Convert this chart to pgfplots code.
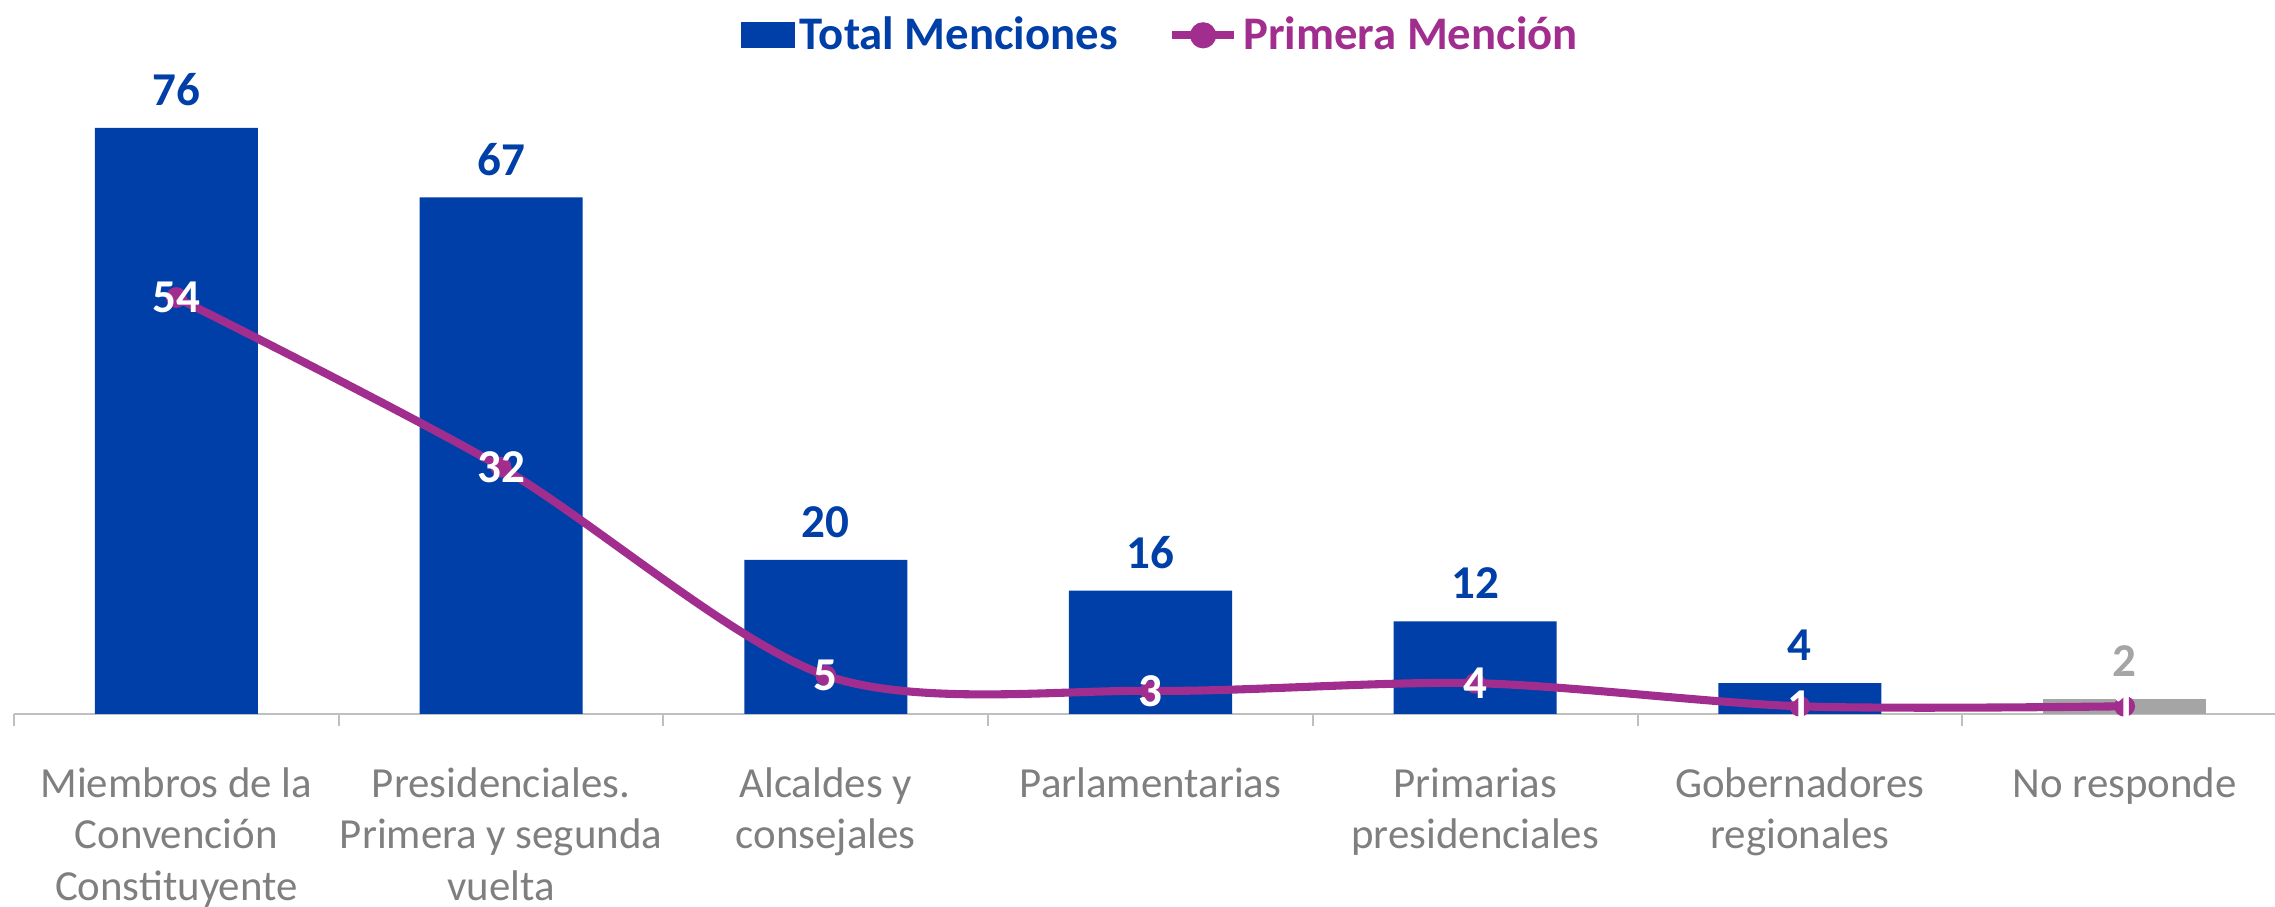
\documentclass[border=0pt]{standalone}
\usepackage{fontspec}
\setmainfont{Carlito}
\usepackage{pgfplots}
\pgfplotsset{compat=1.18}

\definecolor{barblue}{HTML}{003FA7}
\definecolor{linemag}{HTML}{A12E8F}
\definecolor{bargray}{HTML}{A5A5A5}
\definecolor{axisgray}{HTML}{BFBFBF}
\definecolor{labgray}{HTML}{7F7F7F}

\begin{document}
\begin{tikzpicture}
\path[use as bounding box] (-0.14,-1.93) rectangle (22.61,7.14);
\begin{axis}[
  at={(0,0)}, anchor=south west,
  scale only axis,
  width=22.73cm, height=6.17cm,
  xmin=-0.5, xmax=6.5, ymin=0, ymax=80,
  clip=false,
  hide y axis,
  axis x line*=bottom,
  x axis line style={axisgray, line width=0.6pt},
  /pgf/number format/assume math mode=true,
  xtick={0,...,6},
  xticklabels={{Miembros de la\\Convención\\Constituyente},
               {Presidenciales.\\Primera y segunda\\vuelta},
               {Alcaldes y\\consejales},
               {Parlamentarias},
               {Primarias\\presidenciales},
               {Gobernadores\\regionales},
               {No responde}},
  xticklabel style={align=center, anchor=north, inner sep=0pt, yshift=-0.53cm,
    text=labgray, font=\fontsize{12.2}{14.65}\selectfont},
  major tick length=0pt,
  minor xtick={-0.5,0.5,...,6.5},
  minor tick length=0.12cm,
  tick align=outside,
  minor tick style={axisgray, line width=0.6pt},
  legend columns=2,
  legend style={draw=none, fill=none, at={(0.505,1.1)}, anchor=center,
    font=\bfseries\fontsize{13.3}{15}\selectfont,
    /tikz/every even column/.append style={column sep=0.45cm},
    nodes={inner sep=1.5pt}},
]
\addplot[ybar, bar width=1.63cm, bar shift=0pt, fill=barblue, draw=none,
  nodes near coords,
  every node near coord/.append style={anchor=center, yshift=0.38cm,
    text=barblue, font=\bfseries\fontsize{13.4}{15}\selectfont},
  legend image code/.code={\fill[barblue] (0cm,-0.13cm) rectangle (0.54cm,0.13cm);}]
  coordinates {(0,76) (1,67) (2,20) (3,16) (4,12) (5,4)};
\addlegendentry{\textcolor{barblue}{Total Menciones}}
\addplot[ybar, bar width=1.63cm, bar shift=0pt, fill=bargray, draw=none, forget plot,
  nodes near coords,
  every node near coord/.append style={anchor=center, yshift=0.38cm,
    text=bargray, font=\bfseries\fontsize{13.4}{15}\selectfont}]
  coordinates {(6,2)};
\addplot[linemag, line width=2.3pt, smooth, mark=*,
  mark options={scale=0.9, fill=linemag, draw=linemag},
  nodes near coords,
  every node near coord/.append style={anchor=center, text=white,
    font=\bfseries\fontsize{13.4}{15}\selectfont},
  legend image code/.code={\draw[linemag, line width=2.3pt] (0cm,0cm) -- (0.62cm,0cm);
    \fill[linemag] (0.31cm,0cm) circle (0.09cm);}]
  coordinates {(0,54) (1,32) (2,5) (3,3) (4,4) (5,1) (6,1)};
\addlegendentry{\textcolor{linemag}{Primera Mención}}
\end{axis}
\end{tikzpicture}
\end{document}
